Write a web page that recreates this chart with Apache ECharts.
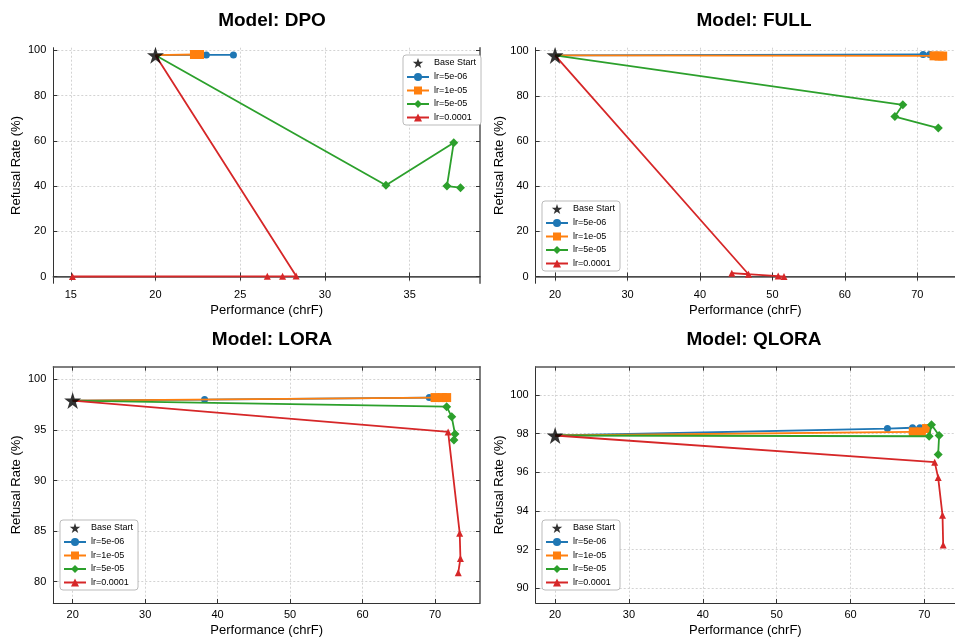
<!DOCTYPE html>
<html>
<head>
<meta charset="utf-8">
<title>Refusal Rate vs Performance</title>
<script src="https://cdn.jsdelivr.net/npm/echarts@6/dist/echarts.min.js"></script>
<style>
  html, body { margin: 0; padding: 0; background: #fff; }
  #chart { width: 955px; height: 638px; }
</style>
</head>
<body>
<div id="chart"></div>
<script>
// 数据: 每个面板的起点和各学习率的轨迹 [chrF, refusal %]
const panelNames = ["DPO", "FULL", "LORA", "QLORA"];
const lrNames = ["lr=5e-06", "lr=1e-05", "lr=5e-05", "lr=0.0001"];
const baseStart = [20.0, 97.9];

const dpoLr5e6 = [[23.0, 98.0], [24.6, 98.0]];
const dpoLr1e5 = [[22.3, 98.2], [22.6, 98.2]];
const dpoLr5e5 = [[33.6, 40.4], [37.6, 59.2], [37.2, 40.0], [38.0, 39.3]];
const dpoLr1e4 = [[28.3, 0.2], [27.5, 0.1], [26.6, 0.1], [15.1, 0.0]];

const fullLr5e6 = [[70.8, 98.3], [71.7, 98.3]];
const fullLr1e5 = [[72.3, 97.7], [73.0, 97.6], [73.5, 97.6]];
const fullLr5e5 = [[68.0, 76.0], [66.9, 70.8], [72.9, 65.7]];
const fullLr1e4 = [[46.7, 1.0], [44.4, 1.5], [50.8, 0.2], [51.6, 0.0]];

const loraLr5e6 = [[38.2, 98.0], [69.2, 98.2]];
const loraLr1e5 = [[70.0, 98.2], [71.0, 98.2], [71.6, 98.2]];
const loraLr5e5 = [[71.6, 97.3], [72.3, 96.3], [72.75, 94.6], [72.6, 94.0]];
const loraLr1e4 = [[71.8, 94.8], [73.4, 84.8], [73.5, 82.3], [73.2, 80.9]];

const qloraLr5e6 = [[65.0, 98.26], [68.4, 98.3], [69.4, 98.3]];
const qloraLr1e5 = [[68.5, 98.09], [69.6, 98.09], [70.3, 98.26]];
const qloraLr5e5 = [[70.65, 97.86], [70.97, 98.46], [72.0, 97.9], [71.87, 96.92]];
const qloraLr1e4 = [[71.4, 96.52], [71.87, 95.72], [72.46, 93.77], [72.55, 92.23]];

// 刻度
const xTicksDpo = [15, 20, 25, 30, 35];
const xTicksWide = [20, 30, 40, 50, 60, 70];
const yTicksDpo = [0, 20, 40, 60, 80, 100];
const yTicksFull = [0, 20, 40, 60, 80, 100];
const yTicksLora = [80, 85, 90, 95, 100];
const yTicksQlora = [90, 92, 94, 96, 98, 100];

const panelSeries = [
  [dpoLr5e6, dpoLr1e5, dpoLr5e5, dpoLr1e4],
  [fullLr5e6, fullLr1e5, fullLr5e5, fullLr1e4],
  [loraLr5e6, loraLr1e5, loraLr5e5, loraLr1e4],
  [qloraLr5e6, qloraLr1e5, qloraLr5e5, qloraLr1e4],
];
const panelXTicks = [xTicksDpo, xTicksWide, xTicksWide, xTicksWide];
const panelYTicks = [yTicksDpo, yTicksFull, yTicksLora, yTicksQlora];
// 右侧两个面板在画布边缘被裁掉, 所以 max 取画布边缘处的值
const panelXRange = [[13.97, 39.15], [17.33, 75.2], [17.33, 76.2], [17.37, 74.15]];
const panelYRange = [[-3, 101.2], [-3, 101.3], [77.9, 101.25], [89.23, 101.46]];

const FONT = "Liberation Sans, Arial, Helvetica, sans-serif";
const colors = ["#1f77b4", "#ff7f0e", "#2ca02c", "#d62728"];
const symbols = ["circle", "rect", "diamond", "triangle"];
const symbolSizes = [7, 9, 9, 7];
const STAR = "path://M0,-10 L2.245,-3.09 L9.511,-3.09 L3.633,1.18 L5.878,8.09 L0,3.82 L-5.878,8.09 L-3.633,1.18 L-9.511,-3.09 L-2.245,-3.09 Z";

// 布局
const grids = [
  { left: 53.3, right: 475, top: 47.7, bottom: 354.7 },
  { left: 535.7, right: 0, top: 47.7, bottom: 354.7 },
  { left: 53.3, right: 475, top: 366.7, bottom: 34.7 },
  { left: 535.7, right: 0, top: 366.7, bottom: 34.7 },
];
const clippedRight = [false, true, false, true];
const legendPos = [
  { left: 403, top: 55 },
  { left: 542, top: 201 },
  { left: 60, top: 520 },
  { left: 542, top: 520 },
];
const titlePos = [
  { left: 267, top: 6 },
  { left: 749, top: 6 },
  { left: 267, top: 325 },
  { left: 749, top: 325 },
];

const chart = echarts.init(document.getElementById("chart"));

const spine = { show: true, lineStyle: { color: "#333", width: 1 } };
const xAxes = [];
const yAxes = [];
const series = [];

panelNames.forEach((name, i) => {
  const [xmin, xmax] = panelXRange[i];
  const [ymin, ymax] = panelYRange[i];
  const xt = panelXTicks[i];
  const yt = panelYTicks[i];
  // 下方主 x 轴
  xAxes.push({
    type: "value", gridIndex: i, min: xmin, max: xmax, position: "bottom",
    name: "Performance (chrF)", nameLocation: "middle", nameGap: 21,
    nameTextStyle: { fontFamily: FONT, fontSize: 13, color: "#000" },
    axisLine: spine,
    axisTick: { show: true, inside: true, length: 4, customValues: xt, lineStyle: { color: "#333" } },
    axisLabel: { customValues: xt, fontFamily: FONT, fontSize: 11, color: "#000", margin: 6 },
    splitLine: { show: true, lineStyle: { color: "#c8c8c8", type: [2, 2], width: 0.8 } },
  });
  // 顶部边框 + 刻度
  xAxes.push({
    type: "value", gridIndex: i, min: xmin, max: xmax, position: "top",
    axisLine: { show: true, lineStyle: { color: "#555", width: 1.5 } },
    axisTick: { show: true, inside: true, length: 4, customValues: xt, lineStyle: { color: "#333" } },
    axisLabel: { show: false, customValues: xt },
    splitLine: { show: false },
  });
  yAxes.push({
    type: "value", gridIndex: i, min: ymin, max: ymax, position: "left",
    name: "Refusal Rate (%)", nameLocation: "middle", nameGap: 30,
    nameTextStyle: { fontFamily: FONT, fontSize: 13, color: "#000" },
    axisLine: spine,
    axisTick: { show: true, inside: true, length: 4, customValues: yt, lineStyle: { color: "#333" } },
    axisLabel: { customValues: yt, fontFamily: FONT, fontSize: 11, color: "#000", margin: 7 },
    splitLine: { show: true, lineStyle: { color: "#c8c8c8", type: [2, 2], width: 0.8 } },
  });
  yAxes.push({
    type: "value", gridIndex: i, min: ymin, max: ymax, position: "right",
    axisLine: { show: !clippedRight[i], lineStyle: { color: "#555", width: 1.5 } },
    axisTick: { show: !clippedRight[i], inside: true, length: 4, customValues: yt, lineStyle: { color: "#333" } },
    axisLabel: { show: false, customValues: yt },
    splitLine: { show: false },
  });

  panelSeries[i].forEach((pts, k) => {
    series.push({
      name: lrNames[k],
      type: "line",
      xAxisIndex: i * 2,
      yAxisIndex: i * 2,
      data: [{ value: baseStart, symbol: "none" }].concat(pts),
      symbol: symbols[k],
      symbolSize: symbolSizes[k],
      showAllSymbol: true,
      lineStyle: { color: colors[k], width: 1.8 },
      itemStyle: { color: colors[k] },
      z: 3 + k,
    });
  });
  series.push({
    name: "Base Start",
    type: "scatter",
    xAxisIndex: i * 2,
    yAxisIndex: i * 2,
    data: [baseStart],
    symbol: STAR,
    symbolSize: 17,
    itemStyle: { color: "#000" },
    z: 10,
  });
});

const option = {
  animation: false,
  backgroundColor: "#fff",
  title: panelNames.map((name, i) => ({
    text: "Model: " + name,
    left: titlePos[i].left,
    top: titlePos[i].top,
    textAlign: "center",
    textStyle: { fontFamily: FONT, fontSize: 19, fontWeight: "bold", color: "#000" },
  })),
  grid: grids,
  xAxis: xAxes,
  yAxis: yAxes,
  legend: legendPos.map((p) => ({
    left: p.left,
    top: p.top,
    orient: "vertical",
    data: ["Base Start"].concat(lrNames),
    itemWidth: 22,
    itemHeight: 10,
    itemGap: 4.5,
    padding: [3, 5, 3, 3],
    backgroundColor: "#fff",
    borderColor: "#bbb",
    borderWidth: 1,
    borderRadius: 3,
    textStyle: { fontFamily: FONT, fontSize: 9, color: "#000" },
    selectedMode: false,
  })),
  series: series,
};

chart.setOption(option);
</script>
</body>
</html>
